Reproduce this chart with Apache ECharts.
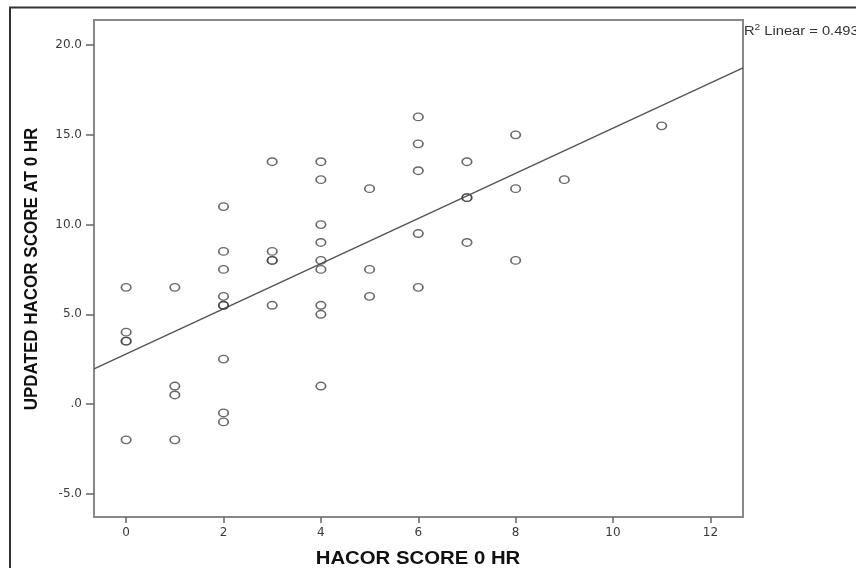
<!DOCTYPE html>
<html>
<head>
<meta charset="utf-8">
<title>HACOR score scatter</title>
<script src="https://cdn.jsdelivr.net/npm/echarts@6/dist/echarts.min.js"></script>
<style>
    html, body { margin: 0; padding: 0; background: #fff; }
    #hacor-chart { width: 856px; height: 568px; }
</style>
</head>
<body>
<div id="hacor-chart"></div>
<script>
// values (overlapping duplicates kept twice)
var hacorScore0 = [0, 0, 0, 0, 0,
    1, 1, 1, 1,
    2, 2, 2, 2, 2, 2, 2, 2, 2,
    3, 3, 3, 3, 3,
    4, 4, 4, 4, 4, 4, 4, 4, 4,
    5, 5, 5,
    6, 6, 6, 6, 6,
    7, 7, 7, 7,
    8, 8, 8,
    9,
    11];
var updatedHacor0 = [6.5, 4.0, 3.5, 3.5, -2.0,
    6.5, 1.0, 0.5, -2.0,
    11.0, 8.5, 7.5, 6.0, 5.5, 5.5, 2.5, -0.5, -1.0,
    13.5, 8.5, 8.0, 8.0, 5.5,
    13.5, 12.5, 10.0, 9.0, 8.0, 7.5, 5.5, 5.0, 1.0,
    12.0, 7.5, 6.0,
    16.0, 14.5, 13.0, 9.5, 6.5,
    13.5, 11.5, 11.5, 9.0,
    15.0, 12.0, 8.0,
    12.5,
    15.5];
var xTicks = [0, 2, 4, 6, 8, 10, 12];
var yTicks = [-5, 0, 5, 10, 15, 20];
var rSquaredText = '0.493';

var xMin = -0.66, xMax = 12.67;
var yMin = -6.3, yMax = 21.4;

var chart = echarts.init(document.getElementById('hacor-chart'));

var points = hacorScore0.map(function (x, i) { return [x, updatedHacor0[i]]; });

// least squares fit line, same as the SPSS "Linear" fit
var n = points.length, sx = 0, sy = 0, sxx = 0, sxy = 0;
points.forEach(function (p) {
    sx += p[0]; sy += p[1]; sxx += p[0] * p[0]; sxy += p[0] * p[1];
});
var slope = (n * sxy - sx * sy) / (n * sxx - sx * sx);
var intercept = (sy - slope * sx) / n;
var fitLine = [[xMin, intercept + slope * xMin], [xMax, intercept + slope * xMax]];

var tickFont = { fontFamily: 'DejaVu Sans', fontSize: 12, color: '#3a3a3a' };

var option = {
    backgroundColor: '#fff',
    animation: false,
    grid: {
        left: 94, top: 20, right: 113, bottom: 51,
        show: true,
        borderColor: '#888',
        borderWidth: 2
    },
    xAxis: {
        type: 'value',
        min: xMin,
        max: xMax,
        axisLine: { show: true, onZero: false, lineStyle: { color: '#888', width: 2 } },
        axisTick: { show: true, customValues: xTicks, length: 6, lineStyle: { color: '#666', width: 1.5 } },
        axisLabel: Object.assign({ customValues: xTicks, margin: 10 }, tickFont),
        splitLine: { show: false }
    },
    yAxis: {
        type: 'value',
        min: yMin,
        max: yMax,
        axisLine: { show: true, onZero: false, lineStyle: { color: '#888', width: 2 } },
        axisTick: { show: true, customValues: yTicks, length: 8, lineStyle: { color: '#666', width: 1.5 } },
        axisLabel: Object.assign({
            customValues: yTicks,
            margin: 12,
            formatter: function (v) { return v === 0 ? '.0' : v.toFixed(1); }
        }, tickFont),
        splitLine: { show: false }
    },
    graphic: [
        {
            type: 'rect',
            shape: { x: 10, y: 7.5, width: 900, height: 600 },
            style: { fill: 'none', stroke: '#333', lineWidth: 2 },
            silent: true
        },
        {
            type: 'text',
            x: 31.5, y: 269,
            rotation: Math.PI / 2,
            scaleY: 1.13,
            style: {
                text: 'UPDATED HACOR SCORE AT 0 HR',
                fontFamily: 'Liberation Sans', fontSize: 17, fontWeight: 'bold',
                fill: '#111', align: 'center', verticalAlign: 'middle'
            }
        },
        {
            type: 'text',
            x: 418, y: 559.5,
            scaleX: 1.13,
            style: {
                text: 'HACOR SCORE 0 HR',
                fontFamily: 'Liberation Sans', fontSize: 18, fontWeight: 'bold',
                fill: '#111', align: 'center', verticalAlign: 'middle'
            }
        },
        {
            type: 'text',
            x: 744, y: 31,
            scaleX: 1.13,
            style: {
                text: '{r|R}{s|2}{r| Linear = ' + rSquaredText + '}',
                align: 'left', verticalAlign: 'middle',
                rich: {
                    r: { fontFamily: 'Liberation Sans', fontSize: 13, fill: '#333', lineHeight: 16 },
                    s: { fontFamily: 'Liberation Sans', fontSize: 9, fill: '#333', verticalAlign: 'top', lineHeight: 9 }
                }
            }
        }
    ],
    series: [
        {
            name: 'Observed',
            type: 'scatter',
            data: points,
            symbol: 'circle',
            symbolSize: [9.5, 7.5],
            itemStyle: { color: 'rgba(0,0,0,0)', borderColor: '#444', borderWidth: 1.5 },
            emphasis: { disabled: true },
            z: 3
        },
        {
            name: 'Linear fit',
            type: 'line',
            data: fitLine,
            symbol: 'none',
            lineStyle: { color: '#555', width: 1.5 },
            emphasis: { disabled: true },
            z: 2
        }
    ]
};

chart.setOption(option);
</script>
</body>
</html>
